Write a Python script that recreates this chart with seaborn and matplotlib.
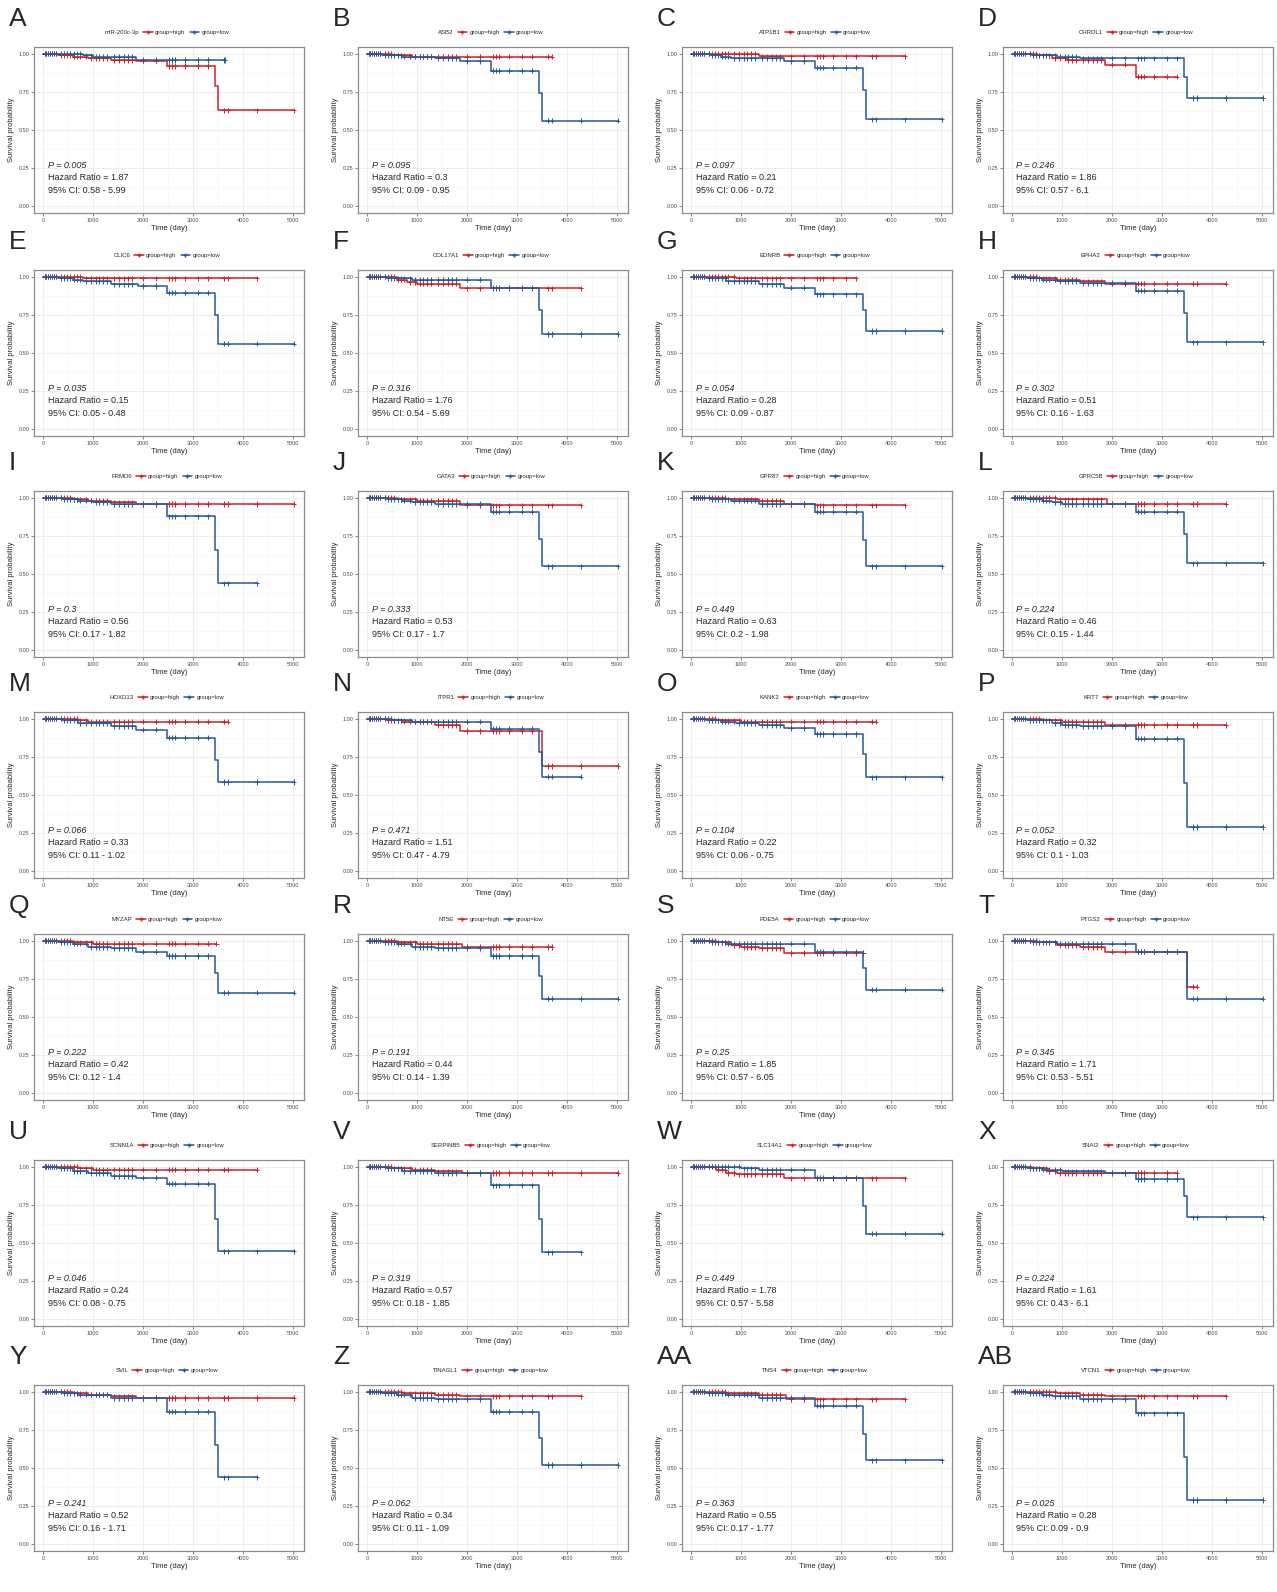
import numpy as np
import pandas as pd
import matplotlib
matplotlib.use("Agg")
import matplotlib.pyplot as plt
import seaborn as sns
from matplotlib.lines import Line2D

# Panel labels / gene names and Cox statistics
LABELS = ["A", "B", "C", "D", "E", "F", "G", "H", "I", "J", "K", "L", "M", "N",
          "O", "P", "Q", "R", "S", "T", "U", "V", "W", "X", "Y", "Z", "AA", "AB"]
GENES = ["miR-200c-3p", "ASB2", "ATP1B1", "CHRDL1", "CLIC6", "COL17A1", "EDNRB",
         "EPHA2", "FRMD6", "GATA3", "GPR87", "GPRC5B", "HOXD13", "ITPR1", "KANK2",
         "KRT7", "MYZAP", "NT5E", "PDE5A", "PTGS2", "SCNN1A", "SERPINB5", "SLC14A1",
         "SNAI2", "SVIL", "TINAGL1", "TNS4", "VTCN1"]
P_VALUES = ["0.005", "0.095", "0.097", "0.246", "0.035", "0.316", "0.054", "0.302",
            "0.3", "0.333", "0.449", "0.224", "0.066", "0.471", "0.104", "0.052",
            "0.222", "0.191", "0.25", "0.345", "0.046", "0.319", "0.449", "0.224",
            "0.241", "0.062", "0.363", "0.025"]
HAZARD_RATIOS = ["1.87", "0.3", "0.21", "1.86", "0.15", "1.76", "0.28", "0.51", "0.56",
                 "0.53", "0.63", "0.46", "0.33", "1.51", "0.22", "0.32", "0.42", "0.44",
                 "1.85", "1.71", "0.24", "0.57", "1.78", "1.61", "0.52", "0.34", "0.55",
                 "0.28"]
CI_LOW = ["0.58", "0.09", "0.06", "0.57", "0.05", "0.54", "0.09", "0.16", "0.17", "0.17",
          "0.2", "0.15", "0.11", "0.47", "0.06", "0.1", "0.12", "0.14", "0.57", "0.53",
          "0.08", "0.18", "0.57", "0.43", "0.16", "0.11", "0.17", "0.09"]
CI_HIGH = ["5.99", "0.95", "0.72", "6.1", "0.48", "5.69", "0.87", "1.63", "1.82", "1.7",
           "1.98", "1.44", "1.02", "4.79", "0.75", "1.03", "1.4", "1.39", "6.05", "5.51",
           "0.75", "1.85", "5.58", "6.1", "1.71", "1.09", "1.77", "0.9"]

# Step points: event times and survival after each event, plus follow-up end
HIGH_TIMES = [
    [300, 600, 900, 1350, 1850, 2480, 3450, 3500], [500, 900], [1350],
    [500, 800, 1100, 1850, 2480], [800], [600, 800, 1000, 1850], [900],
    [500, 900, 1350, 1850], [600, 900, 1350, 1850], [600, 1000, 1850],
    [700, 1350, 1850, 2480], [900, 1900], [700, 900], [400, 700, 1350, 1850, 3500],
    [500, 1000], [600, 1000, 1850], [600, 1000], [600, 1000, 1900],
    [500, 800, 1000, 1350, 1850], [400, 900, 1350, 1850, 3500], [700, 1000],
    [500, 900, 1350, 1900], [500, 700, 900, 1850], [400, 700, 900],
    [600, 900, 1350, 1850], [700, 1350, 1850], [700, 1350, 1900], [900, 1350, 1850]]
HIGH_SURV = [
    [0.99, 0.98, 0.97, 0.96, 0.955, 0.92, 0.79, 0.63], [0.99, 0.98], [0.985],
    [0.99, 0.97, 0.96, 0.93, 0.85], [0.99], [0.98, 0.965, 0.955, 0.925], [0.99],
    [0.99, 0.98, 0.97, 0.955], [0.99, 0.98, 0.97, 0.96], [0.99, 0.98, 0.95],
    [0.99, 0.98, 0.96, 0.95], [0.99, 0.96], [0.99, 0.98], [0.99, 0.98, 0.96, 0.92, 0.69],
    [0.99, 0.98], [0.99, 0.98, 0.96], [0.99, 0.98], [0.99, 0.98, 0.96],
    [0.99, 0.97, 0.96, 0.95, 0.92], [0.99, 0.97, 0.96, 0.93, 0.70], [0.99, 0.98],
    [0.99, 0.98, 0.97, 0.96], [0.98, 0.96, 0.95, 0.925], [0.99, 0.97, 0.96],
    [0.99, 0.98, 0.97, 0.96], [0.99, 0.98, 0.97], [0.99, 0.98, 0.95], [0.99, 0.98, 0.97]]
HIGH_END = [5020, 3700, 4280, 3300, 4280, 4280, 3300, 4280, 5020, 4280, 4280, 4280, 3700,
            5020, 3700, 4280, 3470, 3700, 3450, 3700, 4280, 5020, 4280, 3300, 5020, 4280,
            4280, 4280]

LOW_TIMES = [
    [800, 1000, 1850], [300, 700, 1350, 1850, 2480, 3450, 3500],
    [400, 600, 800, 1850, 2480, 3450, 3500], [400, 900, 1350, 3450, 3500],
    [300, 600, 800, 1350, 1900, 2480, 3450, 3500], [400, 900, 2480, 3450, 3500],
    [300, 700, 1350, 1850, 2480, 3450, 3500], [300, 600, 900, 1350, 2480, 3450, 3500],
    [400, 700, 1000, 1350, 2480, 3450, 3500], [400, 700, 900, 1350, 2480, 3450, 3500],
    [400, 800, 1350, 2480, 3450, 3500], [300, 600, 800, 1000, 2480, 3450, 3500],
    [400, 700, 1350, 1850, 2480, 3450, 3500], [500, 900, 2480, 3450, 3500],
    [300, 600, 900, 1350, 1850, 2480, 3450, 3500], [300, 800, 1000, 1350, 2480, 3450, 3500],
    [300, 600, 900, 1350, 1850, 2480, 3450, 3500], [300, 600, 900, 1350, 2480, 3450, 3500],
    [400, 700, 2480, 3450, 3500], [500, 900, 2480, 3500],
    [300, 600, 900, 1350, 1850, 2480, 3450, 3500], [400, 700, 1350, 2480, 3450, 3500],
    [1000, 1350, 2480, 3450, 3500], [300, 600, 1000, 1850, 2480, 3450, 3500],
    [400, 700, 1350, 2480, 3450, 3500], [300, 600, 900, 1350, 2480, 3450, 3500],
    [300, 700, 1350, 2480, 3450, 3500], [300, 600, 800, 1350, 2480, 3450, 3500]]
LOW_SURV = [
    [0.99, 0.98, 0.96], [0.99, 0.98, 0.97, 0.95, 0.89, 0.74, 0.56],
    [0.99, 0.98, 0.97, 0.95, 0.91, 0.76, 0.57], [0.99, 0.98, 0.97, 0.85, 0.71],
    [0.99, 0.98, 0.97, 0.95, 0.94, 0.895, 0.75, 0.56], [0.99, 0.98, 0.93, 0.78, 0.625],
    [0.99, 0.97, 0.95, 0.93, 0.885, 0.78, 0.645], [0.99, 0.98, 0.97, 0.96, 0.91, 0.76, 0.57],
    [0.99, 0.98, 0.97, 0.96, 0.88, 0.66, 0.44], [0.99, 0.98, 0.97, 0.96, 0.91, 0.73, 0.55],
    [0.99, 0.98, 0.96, 0.91, 0.72, 0.55], [0.99, 0.98, 0.97, 0.96, 0.91, 0.76, 0.57],
    [0.99, 0.97, 0.95, 0.93, 0.875, 0.73, 0.585], [0.99, 0.98, 0.935, 0.78, 0.62],
    [0.99, 0.98, 0.97, 0.96, 0.94, 0.90, 0.77, 0.615],
    [0.99, 0.97, 0.96, 0.95, 0.87, 0.58, 0.29],
    [0.99, 0.98, 0.96, 0.95, 0.93, 0.90, 0.79, 0.66],
    [0.99, 0.98, 0.96, 0.95, 0.90, 0.77, 0.62], [0.99, 0.98, 0.93, 0.82, 0.68],
    [0.99, 0.98, 0.93, 0.62], [0.99, 0.97, 0.96, 0.94, 0.93, 0.89, 0.66, 0.445],
    [0.99, 0.97, 0.96, 0.88, 0.66, 0.44], [0.99, 0.98, 0.93, 0.74, 0.56],
    [0.99, 0.98, 0.97, 0.96, 0.92, 0.81, 0.67], [0.99, 0.98, 0.96, 0.87, 0.65, 0.44],
    [0.99, 0.98, 0.96, 0.95, 0.87, 0.70, 0.52], [0.99, 0.98, 0.96, 0.91, 0.72, 0.55],
    [0.99, 0.98, 0.97, 0.95, 0.86, 0.57, 0.29]]
LOW_END = [3640, 5020, 5020, 5020, 5020, 5020, 5020, 5020, 4280, 5020, 5020, 5020, 5020,
           4280, 5020, 5020, 5020, 5020, 5020, 5020, 5020, 4280, 5020, 5020, 4280, 5020,
           5020, 5020]

# censoring times shared by the cohort (clipped to each group's follow-up)
CENSOR_TIMES = [30, 60, 100, 140, 180, 220, 260, 350, 420, 480, 540, 620, 680, 740,
                850, 950, 1050, 1120, 1200, 1280, 1420, 1520, 1620, 1700, 1780, 2000,
                2250, 2520, 2580, 2650, 2850, 3100, 3300, 3620, 3700, 4280, 5020]

RED = "#CC2229"
BLUE = "#24599B"

FIG_W, FIG_H = 1277, 1592
COL_LEFT = [34, 358, 682, 1003]
ROW_TOP = [47, 270, 491, 712, 934, 1160, 1385]
AX_W, AX_H = 270, 166

sns.set_style("whitegrid")
plt.rcParams["font.family"] = ["Liberation Sans", "DejaVu Sans"]


def step_frame(times, surv, end, group):
    t = [0] + list(times) + [end]
    s = [1.0] + list(surv) + [surv[-1]]
    return pd.DataFrame({"time": t, "surv": s, "group": group})


def censor_frame(times, surv, end, group):
    ct = [c for c in CENSOR_TIMES if c < end] + [end]
    idx = np.searchsorted(np.array(times), np.array(ct), side="right")
    levels = np.array([1.0] + list(surv))
    return pd.DataFrame({"time": ct, "surv": levels[idx], "group": group})


fig = plt.figure(figsize=(FIG_W / 100, FIG_H / 100), dpi=100)
palette = {"high": RED, "low": BLUE}

for i, gene in enumerate(GENES):
    r, c = divmod(i, 4)
    left = COL_LEFT[c] / FIG_W
    bottom = 1 - (ROW_TOP[r] + AX_H) / FIG_H
    ax = fig.add_axes([left, bottom, AX_W / FIG_W, AX_H / FIG_H])

    curves = pd.concat([step_frame(HIGH_TIMES[i], HIGH_SURV[i], HIGH_END[i], "high"),
                        step_frame(LOW_TIMES[i], LOW_SURV[i], LOW_END[i], "low")])
    cens = pd.concat([censor_frame(HIGH_TIMES[i], HIGH_SURV[i], HIGH_END[i], "high"),
                      censor_frame(LOW_TIMES[i], LOW_SURV[i], LOW_END[i], "low")])

    sns.lineplot(data=curves, x="time", y="surv", hue="group", palette=palette,
                 estimator=None, sort=False, drawstyle="steps-post", lw=1.1,
                 legend=False, ax=ax)
    sns.scatterplot(data=cens, x="time", y="surv", hue="group", palette=palette,
                    marker="+", s=14, linewidth=0.7, legend=False, ax=ax)

    ax.set_xlim(-190, 5230)
    ax.set_ylim(-0.045, 1.045)
    ax.set_xticks([0, 1000, 2000, 3000, 4000, 5000])
    ax.set_xticks([500, 1500, 2500, 3500, 4500], minor=True)
    ax.set_yticks([0, 0.25, 0.5, 0.75, 1.0])
    ax.set_yticklabels(["0.00", "0.25", "0.50", "0.75", "1.00"])
    ax.set_yticks([0.125, 0.375, 0.625, 0.875], minor=True)
    ax.grid(True, which="major", color="#EBEBEB", lw=0.6)
    ax.grid(True, which="minor", color="#F4F4F4", lw=0.4)
    ax.tick_params(axis="both", which="major", labelsize=4, colors="#4D4D4D",
                   length=2, width=0.5, pad=1.5, left=True, bottom=True)
    ax.tick_params(axis="both", which="minor", length=0)
    for sp in ax.spines.values():
        sp.set_color("#8C8C8C")
        sp.set_linewidth(0.9)
    ax.set_xlabel("Time (day)", fontsize=5.5, labelpad=1.5)
    ax.set_ylabel("Survival probability", fontsize=5.5, labelpad=2)

    ax.text(0.05, 0.285, f"P = {P_VALUES[i]}", transform=ax.transAxes,
            fontsize=6.5, style="italic", va="center")
    ax.text(0.05, 0.215, f"Hazard Ratio = {HAZARD_RATIOS[i]}", transform=ax.transAxes,
            fontsize=6.5, va="center")
    ax.text(0.05, 0.135, f"95% CI: {CI_LOW[i]} - {CI_HIGH[i]}", transform=ax.transAxes,
            fontsize=6.5, va="center")

    handles = [Line2D([], [], color="none"),
               Line2D([], [], color=RED, marker="+", markersize=3.5, lw=1.1),
               Line2D([], [], color=BLUE, marker="+", markersize=3.5, lw=1.1)]
    ax.legend(handles, [gene, "group=high", "group=low"], loc="center",
              bbox_to_anchor=(0.47, 1.09), ncol=3, frameon=False, fontsize=4.3,
              handlelength=1.6, handletextpad=0.4, columnspacing=0.7, borderpad=0)

    fig.text((COL_LEFT[c] - 25) / FIG_W, 1 - (ROW_TOP[r] - 28) / FIG_H, LABELS[i],
             fontsize=19, va="center", ha="left")

fig.savefig("out.png", dpi=100)
